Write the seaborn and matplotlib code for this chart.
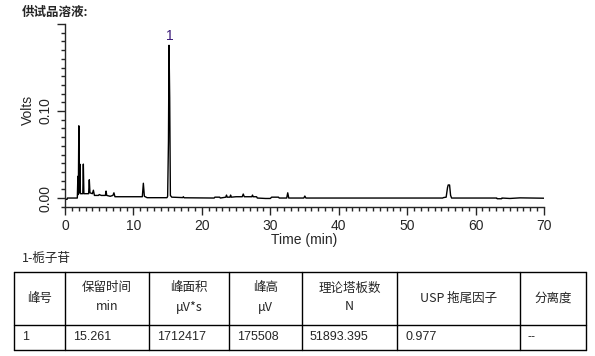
import matplotlib
matplotlib.use("Agg")
import matplotlib.pyplot as plt
from matplotlib.ticker import MultipleLocator, FixedLocator
import seaborn as sns
import pandas as pd

# chromatogram trace (time in min, signal in volts)
time_min = [0.0, 0.3, 0.35, 1.8, 1.88, 1.95, 2.02, 2.1, 2.17, 2.25, 2.6, 2.68, 2.76,
            3.45, 3.55, 3.65, 4.0, 4.15, 4.3, 4.9, 5.0, 5.3, 5.9, 6.0, 6.1, 6.6, 7.0,
            7.15, 7.3, 11.3, 11.45, 11.6, 12.0, 14.9, 15.0, 15.12, 15.2, 15.3, 15.4,
            15.6, 17.2, 17.3, 17.4, 21.8, 21.9, 22.6, 22.7, 23.5, 23.6, 23.7, 24.1,
            24.2, 24.3, 25.0, 25.9, 26.05, 26.2, 27.3, 27.4, 27.5, 28.0, 28.1, 29.3,
            30.0, 30.2, 31.2, 31.3, 32.4, 32.55, 32.7, 34.9, 35.05, 35.2, 55.2, 55.3,
            55.7, 55.9, 56.0, 56.2, 56.35, 56.5, 63.1, 63.15, 63.8, 63.85, 65.0, 66.5,
            70.0]
volts = [-0.0015, -0.0015, 0.0, 0.0, 0.025, 0.004, 0.083, 0.006, 0.039, 0.005, 0.005,
         0.039, 0.005, 0.005, 0.021, 0.006, 0.005, 0.009, 0.003, 0.003, 0.004, 0.003,
         0.003, 0.008, 0.003, 0.002, 0.003, 0.006, 0.0015, 0.0015, 0.017, 0.002, 0.0004,
         0.0004, 0.002, 0.065, 0.1755, 0.115, 0.003, 0.001, 0.0005, 0.0015, 0.0003, 0.0,
         0.001, 0.001, 0.0, 0.001, 0.0034, 0.001, 0.001, 0.0034, 0.001, 0.0015, 0.0015,
         0.0046, 0.0015, 0.0015, 0.0034, 0.0015, 0.0015, 0.0, -0.0005, -0.0005, 0.001,
         0.001, 0.0, 0.0, 0.006, 0.0, 0.0, 0.0023, 0.0, 0.0, 0.0005, 0.001, 0.012, 0.015,
         0.015, 0.003, 0.0, 0.0, -0.0008, -0.0008, 0.0, -0.0005, 0.0002, -0.0002]

peak_labels = ["1"]
peak_times = [15.261]
peak_heights = [0.1755]

table_title = "1-栀子苷"
header_top = ["峰号", "保留时间", "峰面积", "峰高", "理论塔板数", "USP 拖尾因子", "分离度"]
header_unit = ["", "min", "μV*s", "μV", "N", "", ""]
row_values = ["1", "15.261", "1712417", "175508", "51893.395", "0.977", "--"]

sns.set_style("ticks")
plt.rcParams["font.family"] = ["Liberation Sans", "Noto Sans CJK SC", "DejaVu Sans"]
cjk = ["Noto Sans CJK SC", "DejaVu Sans"]
W, H = 595, 356

fig = plt.figure(figsize=(5.95, 3.56), dpi=100)

# overlay in pixel coordinates for title and table
ov = fig.add_axes([0, 0, 1, 1])
ov.set_xlim(0, W)
ov.set_ylim(H, 0)
ov.axis("off")

ax = fig.add_axes([65 / W, 1 - 207 / H, (544 - 65) / W, (207 - 24) / H])
df = pd.DataFrame({"time": time_min, "volts": volts})
sns.lineplot(data=df, x="time", y="volts", sort=False, estimator=None,
             color="black", lw=1.0, ax=ax)
sns.despine(ax=ax)
ax.set_xlim(0, 70)
ax.set_ylim(-0.0103, 0.2)
ax.xaxis.set_major_locator(MultipleLocator(10))
ax.xaxis.set_minor_locator(MultipleLocator(1))
ax.yaxis.set_major_locator(FixedLocator([0.0, 0.1, 0.2]))
ax.yaxis.set_minor_locator(MultipleLocator(0.01))
ax.set_yticklabels(["0.00", "0.10", ""], rotation=90, va="center")
ax.tick_params(axis="both", which="major", length=6, width=1, labelsize=10, pad=3)
ax.tick_params(axis="both", which="minor", length=3, width=1)
for s in ax.spines.values():
    s.set_linewidth(1.0)
ax.set_xlabel("Time (min)", fontsize=10)
ax.xaxis.set_label_coords(0.5, -0.14)
ax.set_ylabel("Volts", fontsize=10)
ax.yaxis.set_label_coords(-0.062, 0.53)

for lab, t, h in zip(peak_labels, peak_times, peak_heights):
    ax.annotate(lab, (t, h), xytext=(0, 2), textcoords="offset points",
                ha="center", va="bottom", fontsize=10, color="#3a1a78")

ov.text(22, 12, "供试品溶液:", family=cjk, fontsize=9, fontweight="bold",
        ha="left", va="center")
ov.text(22, 258, table_title, family=cjk, fontsize=9, ha="left", va="center")

col_edges = [14, 65, 149, 229, 302, 397, 520, 586]
row_edges = [272, 325, 350]
for y in row_edges:
    ov.plot([col_edges[0], col_edges[-1]], [y, y], color="black", lw=1.0)
for x in col_edges:
    ov.plot([x, x], [row_edges[0], row_edges[-1]], color="black", lw=1.0)

for i, (top, unit, val) in enumerate(zip(header_top, header_unit, row_values)):
    cx = (col_edges[i] + col_edges[i + 1]) / 2
    if unit:
        ov.text(cx, 288, top, family=cjk, fontsize=9, ha="center", va="center")
        ov.text(cx, 307, unit, family=cjk, fontsize=9, ha="center", va="center")
    else:
        ov.text(cx, 298, top, family=cjk, fontsize=9, ha="center", va="center")
    ov.text(col_edges[i] + 8, 337.5, val, fontsize=9, ha="left", va="center")

fig.savefig("out.png", dpi=100)
